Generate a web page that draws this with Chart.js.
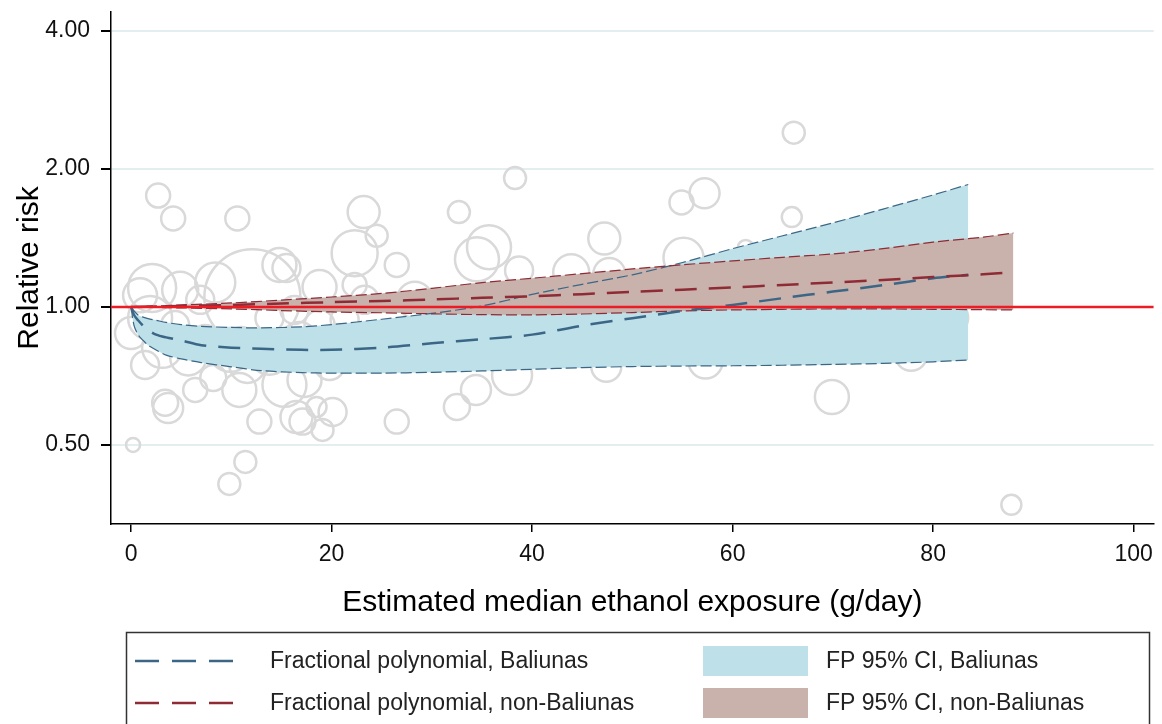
<!DOCTYPE html>
<html>
<head>
<meta charset="utf-8">
<script src="https://cdn.jsdelivr.net/npm/chart.js@4/dist/chart.umd.min.js"></script>
<style>
  html, body { margin: 0; padding: 0; background: #fff; }
  canvas { display: block; }
</style>
</head>
<body>
<canvas id="fpChart" width="1162" height="724"></canvas>
<script>
// axis ranges and ticks
const xMin = -2, xMax = 102;
const yMin = 0.336, yMax = 4.4;
const xTicks = [0, 20, 40, 60, 80, 100];
const yTicks = [0.5, 1, 2, 4];
const refRisk = 1;

// study estimates (bubble radius ~ study weight)
const bubbleX = [66.1, 38.3, 57.2, 54.9, 32.7, 2.7, 4.2, 10.6, 23.2, 24.5, 22.3, 26.5, 65.9, 47.2, 35.7, 34.5, 55.1, 61.3, 43.9, 47.7,
  38.7, 0.9, 2.1, 4.9, 8.4, 12.1, 14.8, 15.5, 18.8, 0.0, 1.9, 3.1, 1.4, 5.7, 7.4, 9.9, 11.6, 13.8, 16.8, 15.3,
  10.8, 6.4, 8.2, 17.3, 19.8, 18.8, 21.3, 3.4, 3.7, 12.8, 16.5, 17.1, 18.5, 20.1, 19.1, 26.5, 0.2, 11.4, 9.8, 32.5,
  34.4, 38.0, 47.4, 57.3, 69.9, 77.8, 82.0, 87.8, 23.3, 28.3, 30.7, 41.2, 51.6, 22.3, 6.9, 4.4, 13.8, 16.3, 11.0];
const bubbleY = [2.40, 1.91, 1.77, 1.69, 1.61, 1.75, 1.56, 1.56, 1.61, 1.43, 1.31, 1.235, 1.57, 1.41, 1.35, 1.27, 1.28, 1.345, 1.19, 1.18,
  1.20, 1.06, 1.10, 1.09, 1.13, 1.05, 1.235, 1.216, 1.105, 0.877, 0.946, 0.814, 0.747, 0.776, 0.847, 0.806, 0.747, 0.786, 0.847, 0.676,
  0.659, 0.659, 0.70, 0.693, 0.747, 0.913, 0.937, 0.618, 0.602, 0.562, 0.575, 0.562, 0.605, 0.59, 0.539, 0.562, 0.50, 0.459, 0.411, 0.605,
  0.659, 0.71, 0.74, 0.76, 0.636, 0.786, 0.946, 0.37, 1.036, 1.036, 0.891, 1.036, 1.01, 1.117, 1.036, 0.913, 0.946, 0.985, 0.847];
const bubbleR = [11, 11, 15, 12, 11, 12, 12, 12, 16, 11, 23, 12, 10, 16, 22, 22, 20, 8, 18, 16,
  14, 17, 24, 18, 20, 48, 17, 14, 17, 16, 22, 20, 14, 18, 15, 22, 18, 20, 18, 22,
  17, 12, 13, 17, 15, 15, 14, 13, 15, 12, 16, 13, 10, 14, 11, 12, 7, 11, 11, 13,
  15, 20, 15, 17, 17, 16, 15, 10, 14, 18, 15, 15, 15, 12, 14, 14, 14, 14, 13];

// fractional polynomial fit, Baliunas
const balX = [0, 0.3, 0.7, 1.2, 1.7, 2.5, 3.5, 5, 7, 10, 13, 17, 20, 25, 30, 35, 40, 45, 50, 55, 60, 65, 70, 75, 80, 83.5];
const balFit = [1.0, 0.96, 0.935, 0.91, 0.89, 0.87, 0.858, 0.845, 0.825, 0.815, 0.81, 0.806, 0.806, 0.815, 0.833, 0.85, 0.87, 0.91, 0.945, 0.98, 1.01, 1.045, 1.08, 1.115, 1.155, 1.175];
const balUpper = [1.0, 0.98, 0.96, 0.95, 0.943, 0.935, 0.925, 0.915, 0.907, 0.902, 0.90, 0.905, 0.915, 0.94, 0.968, 1.005, 1.065, 1.12, 1.175, 1.25, 1.34, 1.43, 1.525, 1.635, 1.755, 1.85];
const balLower = [1.0, 0.91, 0.87, 0.845, 0.825, 0.805, 0.785, 0.77, 0.756, 0.74, 0.726, 0.719, 0.717, 0.717, 0.72, 0.725, 0.731, 0.737, 0.741, 0.743, 0.744, 0.746, 0.749, 0.753, 0.759, 0.766];

// fractional polynomial fit, non-Baliunas
const nonX = [0, 2, 5, 10, 15, 20, 25, 30, 35, 40, 45, 50, 55, 60, 65, 70, 75, 80, 85, 88];
const nonFit = [1.0, 1.002, 1.005, 1.01, 1.017, 1.024, 1.03, 1.038, 1.047, 1.055, 1.066, 1.079, 1.09, 1.103, 1.117, 1.13, 1.145, 1.162, 1.178, 1.19];
const nonUpper = [1.0, 1.004, 1.01, 1.02, 1.035, 1.051, 1.07, 1.098, 1.13, 1.155, 1.182, 1.21, 1.236, 1.26, 1.283, 1.305, 1.34, 1.385, 1.42, 1.45];
const nonLower = [1.0, 0.998, 0.995, 0.99, 0.982, 0.975, 0.971, 0.966, 0.962, 0.961, 0.965, 0.972, 0.98, 0.985, 0.988, 0.99, 0.99, 0.988, 0.986, 0.985];

const blueLine = '#3b6686';
const redLine = '#8e2b35';
const blueFill = '#bde0e9';
const redFill = '#c9b1ac';
const font = '"Liberation Sans", Arial, sans-serif';

const pts = (xs, ys) => xs.map((x, i) => ({ x: x, y: ys[i] }));

function band(xs, ys, fill, order) {
  return { type: 'line', data: pts(xs, ys), borderWidth: 0, pointRadius: 0, tension: 0.3,
    backgroundColor: fill, fill: fill ? '-1' : false, order: order };
}
function edge(xs, ys, color, order) {
  return { type: 'line', data: pts(xs, ys), borderColor: color, borderWidth: 1.2, borderDash: [11, 4],
    pointRadius: 0, tension: 0.3, fill: false, order: order };
}

const legendItems = [
  { kind: 'line', color: blueLine, text: 'Fractional polynomial, Baliunas' },
  { kind: 'line', color: redLine, text: 'Fractional polynomial, non-Baliunas' },
  { kind: 'box', color: blueFill, text: 'FP 95% CI, Baliunas' },
  { kind: 'box', color: redFill, text: 'FP 95% CI, non-Baliunas' }
];

// legend in a box under the plot, two columns
const boxLegend = {
  id: 'boxLegend',
  afterDraw(chart) {
    const ctx = chart.ctx;
    ctx.save();
    ctx.strokeStyle = '#333';
    ctx.lineWidth = 1.5;
    ctx.strokeRect(126.5, 632.5, 1023, 110);
    ctx.font = '23px ' + font;
    ctx.textBaseline = 'middle';
    ctx.fillStyle = '#222';
    const rows = [661, 703];
    legendItems.forEach((it, i) => {
      const y = rows[i % 2];
      if (it.kind === 'line') {
        ctx.strokeStyle = it.color;
        ctx.lineWidth = 2.5;
        ctx.setLineDash([24, 13]);
        ctx.beginPath();
        ctx.moveTo(135, y);
        ctx.lineTo(234, y);
        ctx.stroke();
        ctx.setLineDash([]);
        ctx.fillText(it.text, 270, y + 1);
      } else {
        ctx.fillStyle = it.color;
        ctx.fillRect(703, y - 15, 105, 30);
        ctx.fillStyle = '#222';
        ctx.fillText(it.text, 826, y + 1);
      }
    });
    ctx.restore();
  }
};

new Chart(document.getElementById('fpChart'), {
  data: {
    datasets: [
      { type: 'bubble', data: bubbleX.map((x, i) => ({ x: x, y: bubbleY[i], r: bubbleR[i] })),
        backgroundColor: 'rgba(0,0,0,0)', borderColor: '#d9d9d9', borderWidth: 2.5, order: 20 },
      band(balX, balLower, null, 19),
      band(balX, balUpper, blueFill, 18),
      band(nonX, nonLower, null, 17),
      band(nonX, nonUpper, redFill, 16),
      edge(balX, balLower, blueLine, 15),
      edge(balX, balUpper, blueLine, 14),
      edge(nonX, nonLower, redLine, 13),
      edge(nonX, nonUpper, redLine, 12),
      { type: 'line', data: pts(balX, balFit), borderColor: blueLine, borderWidth: 2.5, borderDash: [22, 12],
        pointRadius: 0, tension: 0.3, fill: false, order: 5 },
      { type: 'line', data: pts(nonX, nonFit), borderColor: redLine, borderWidth: 2.5, borderDash: [22, 12],
        pointRadius: 0, tension: 0.3, fill: false, order: 4 },
      { type: 'line', data: [{ x: xMin, y: refRisk }, { x: xMax, y: refRisk }], borderColor: '#ec1c24',
        borderWidth: 2.5, pointRadius: 0, fill: false, order: 1 }
    ]
  },
  options: {
    responsive: false,
    animation: false,
    devicePixelRatio: 1,
    events: [],
    layout: { autoPadding: false, padding: { top: 12, right: 7, bottom: 90, left: 0 } },
    plugins: { legend: { display: false }, tooltip: { enabled: false } },
    scales: {
      x: {
        type: 'linear', min: xMin, max: xMax,
        afterBuildTicks: s => { s.ticks = xTicks.map(v => ({ value: v })); },
        afterFit: s => { s.height = 110; },
        grid: { drawOnChartArea: false, tickLength: 8, color: '#000', lineWidth: 1.5 },
        border: { color: '#000', width: 1.5 },
        ticks: { font: { family: font, size: 23 }, color: '#111', padding: 9, maxRotation: 0 },
        title: { display: true, text: 'Estimated median ethanol exposure (g/day)', color: '#000',
          font: { family: font, size: 30 }, padding: { top: 0, bottom: 13 } }
      },
      y: {
        type: 'logarithmic', min: yMin, max: yMax,
        afterBuildTicks: s => { s.ticks = yTicks.map(v => ({ value: v })); s.min = yMin; s.max = yMax; },
        afterFit: s => { s.width = 111; s.paddingTop = 0; s.paddingBottom = 0; },
        grid: { color: '#e4eef1', tickColor: '#000', lineWidth: 2, tickLength: 10 },
        border: { color: '#000', width: 1.5 },
        ticks: { font: { family: font, size: 23 }, color: '#111', padding: 11,
          callback: v => Number(v).toFixed(2) },
        title: { display: true, text: 'Relative risk', color: '#000',
          font: { family: font, size: 30 }, padding: { top: 12, bottom: 0 } }
      }
    }
  },
  plugins: [boxLegend]
});
</script>
</body>
</html>
